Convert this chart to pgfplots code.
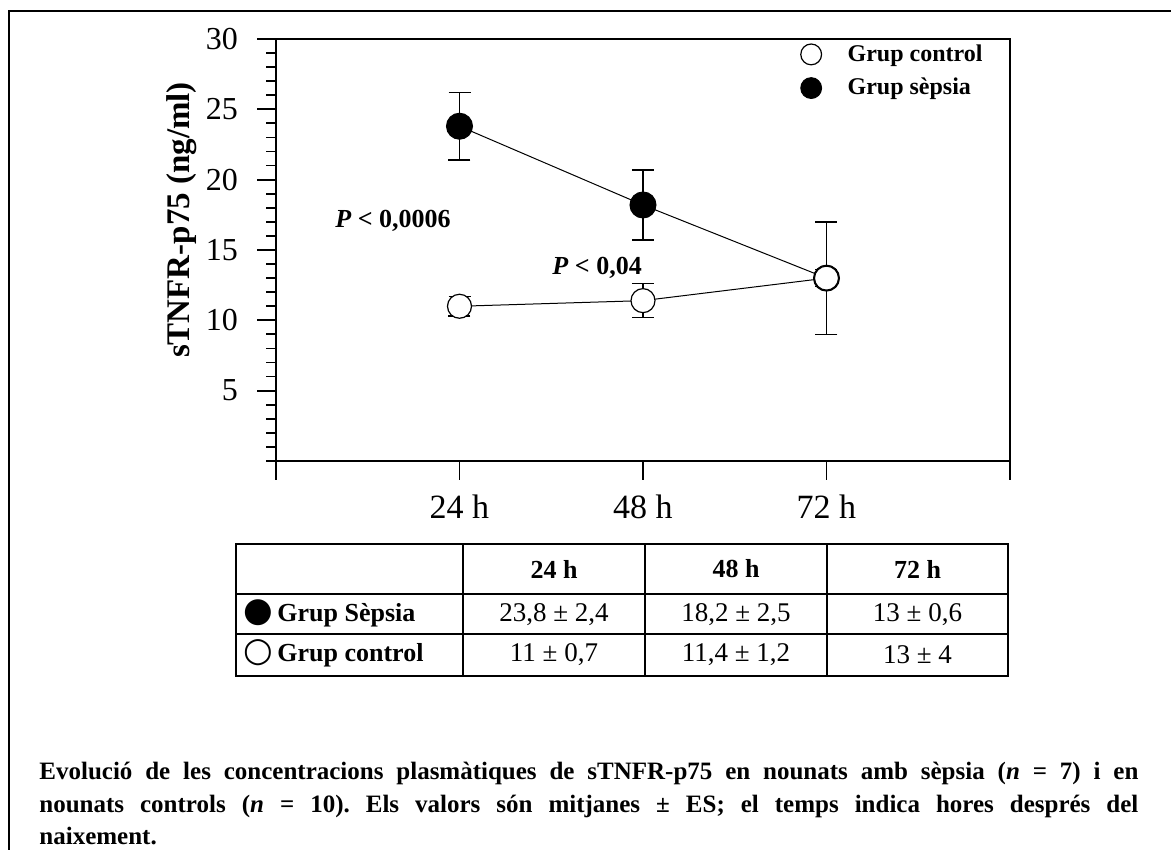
\documentclass[border=0pt]{standalone}
\usepackage{fontspec}
\setmainfont{Liberation Serif}
\newfontfamily\dejavu{DejaVu Sans}
\usepackage{pgfplots}
\pgfplotsset{compat=1.18}
\begin{document}
\frenchspacing
\begin{tikzpicture}[x=0.5pt,y=0.5pt]
\useasboundingbox (0,0) rectangle (1171,850);
\draw[line width=1pt] (9,0) -- (9,839) -- (1171,839);
\begin{axis}[
  at={(138pt,194.5pt)}, anchor=south west,
  scale only axis, width=367pt, height=211pt,
  xmin=0, xmax=96, ymin=0, ymax=30,
  xtick={0,24,48,72,96}, xticklabels={,24 h,48 h,72 h,},
  ytick={5,10,...,30}, minor ytick={0,1,...,30},
  xtick pos=bottom, ytick pos=left, tick align=outside,
  major tick length=9.5pt, minor tick length=5pt,
  every tick/.append style={black, line width=0.9pt},
  axis line style={line width=0.9pt},
  xticklabel style={font=\fontsize{17}{19}\selectfont, yshift=-4pt},
  yticklabel style={font=\fontsize{16}{18}\selectfont, xshift=-6pt},
  /pgf/number format/assume math mode=true,
  ylabel={\textbf{sTNFR-p75 (ng/ml)}},
  every axis y label/.style={at={(axis description cs:-0.128,0.571)}, rotate=90, anchor=center, font=\fontsize{16.5}{18}\selectfont},
  legend style={at={(axis cs:67.8,30.2)}, anchor=north west, draw=none, fill=none,
    font=\bfseries\fontsize{12}{13.5}\selectfont, row sep=3pt,
    legend cell align=left,
    /tikz/every odd column/.append style={column sep=11pt}},
  legend image code/.code={\draw[#1, mark size=5.2pt] plot coordinates {(0pt,0pt)};},
  reverse legend,
  clip=false
]
\addplot[black, line width=0.5pt, mark=*, mark size=6.5pt,
  mark options={fill=black, solid, line width=0.5pt},
  error bars/.cd, y dir=both, y explicit,
  error bar style={line width=0.7pt},
  error mark options={rotate=90, line width=0.7pt, mark size=5.5pt}]
  coordinates {(24,23.8) +- (0,2.4) (48,18.2) +- (0,2.5) (72,13) +- (0,0.6)};
\addlegendentry{Grup sèpsia}
\addplot[black, line width=0.5pt, mark=*, mark size=6pt,
  mark options={fill=white, draw=black, solid, line width=0.6pt},
  error bars/.cd, y dir=both, y explicit,
  error bar style={line width=0.7pt},
  error mark options={rotate=90, line width=0.7pt, mark size=5.5pt}]
  coordinates {(24,11) +- (0,0.7) (48,11.4) +- (0,1.2) (72,13) +- (0,4)};
\addlegendentry{Grup control}
\node[font=\bfseries\fontsize{13}{15}\selectfont] at (axis cs:15.3,17.06) {\textit{P} < 0,0006};
\node[font=\bfseries\fontsize{13}{15}\selectfont] at (axis cs:42.0,13.7) {\textit{P} < 0,04};
\end{axis}
% table
\begin{scope}[line width=1pt]
\draw (236,306) rectangle (1008,174);
\draw (236,256) -- (1008,256);
\draw (236,216) -- (1008,216);
\draw (463,306) -- (463,174);
\draw (645,306) -- (645,174);
\draw (827,306) -- (827,174);
\end{scope}
\begin{scope}[font=\fontsize{13.5}{15}\selectfont]
\node[font=\bfseries\fontsize{13}{15}\selectfont] at (554,281) {24 h};
\node[font=\bfseries\fontsize{13}{15}\selectfont] at (736,281) {48 h};
\node[font=\bfseries\fontsize{13}{15}\selectfont] at (917.5,281) {72 h};
\node at (554,235) {23,8 ± 2,4};
\node at (736,235) {18,2 ± 2,5};
\node at (917.5,235) {13 ± 0,6};
\node at (554,195) {11 ± 0,7};
\node at (736,195) {11,4 ± 1,2};
\node at (917.5,195) {13 ± 4};
\node[anchor=west, font=\bfseries\fontsize{13}{15}\selectfont, inner sep=0pt] at (243,237) {{\dejavu\fontsize{17}{17}\selectfont ●}\,Grup Sèpsia};
\node[anchor=west, font=\bfseries\fontsize{13}{15}\selectfont, inner sep=0pt] at (243,197) {{\dejavu\fontsize{17}{17}\selectfont ○}\,Grup control};
\end{scope}
% caption
\node[anchor=north west, inner sep=0pt, text width=549.5pt, align=justify,
  font=\bfseries\fontsize{12.5}{16.3}\selectfont] at (39,88) {\tolerance=9999 Evolució de les concentracions plasmàtiques de sTNFR-p75 en nounats amb sèpsia (\textit{n} = 7) i en\linebreak nounats controls (\textit{n} = 10). Els valors són mitjanes ± ES; el temps indica hores després del\linebreak naixement.};
\end{tikzpicture}
\end{document}
